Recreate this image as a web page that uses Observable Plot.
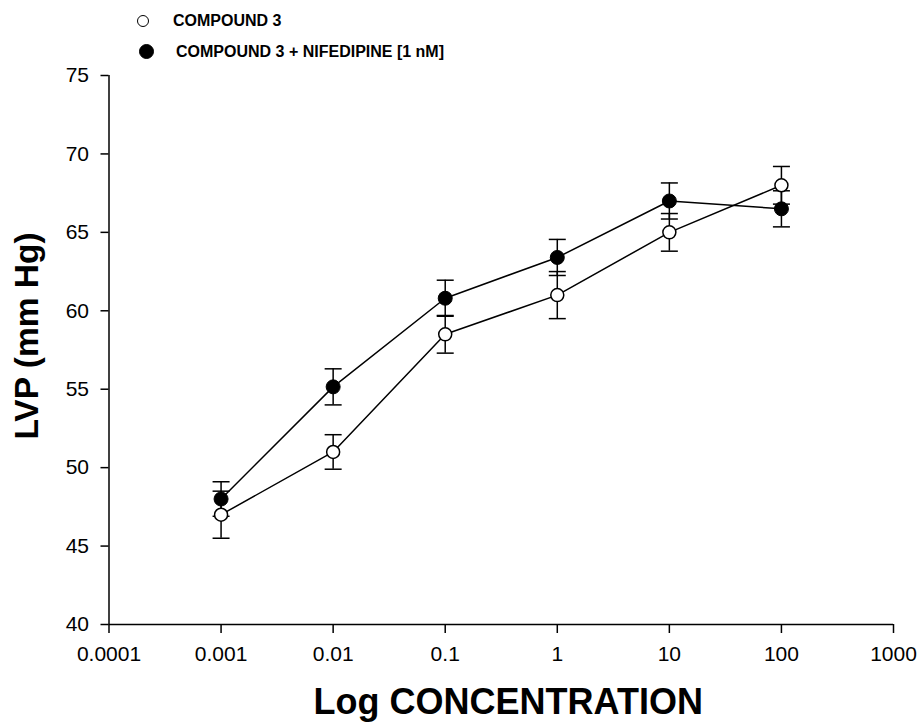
<!DOCTYPE html>
<html>
<head>
<meta charset="utf-8">
<script src="https://cdn.jsdelivr.net/npm/d3@7"></script>
<script src="https://cdn.jsdelivr.net/npm/@observablehq/plot@0.6"></script>
<style>
  body { margin: 0; background: #fff; font-family: "Liberation Sans", Arial, sans-serif; }
  #legend { position: relative; width: 917px; height: 62px; }
  #legend .sym { position: absolute; border-radius: 50%; box-sizing: border-box; }
  #legend .lab { position: absolute; font-weight: bold; font-size: 16px; line-height: 1; white-space: nowrap; color: #000; }
</style>
</head>
<body>
<div id="legend"></div>
<div id="chart"></div>
<script>
// ---- data ----
const concentrations = [0.001, 0.01, 0.1, 1, 10, 100];
const compound3 = [47, 51, 58.5, 61, 65, 68];
const compound3Err = [1.5, 1.1, 1.2, 1.5, 1.2, 1.2];
const nifedipine = [48, 55.15, 60.8, 63.4, 67, 66.5];
const nifedipineErr = [1.1, 1.15, 1.15, 1.15, 1.15, 1.15];
const seriesNames = ["COMPOUND 3", "COMPOUND 3 + NIFEDIPINE [1 nM]"];
const xTicks = [0.0001, 0.001, 0.01, 0.1, 1, 10, 100, 1000];
const yTicks = [40, 45, 50, 55, 60, 65, 70, 75];
const xTitle = "Log CONCENTRATION";
const yTitle = "LVP (mm Hg)";

// ---- legend (HTML) ----
const legend = document.getElementById("legend");
const legendItems = [
  {name: seriesNames[0], cx: 143.3, cy: 20.7, r: 6, fill: "#fff", textLeft: 173, textTop: 13.4},
  {name: seriesNames[1], cx: 146.7, cy: 51.7, r: 7.5, fill: "#000", textLeft: 176, textTop: 44.2}
];
for (const it of legendItems) {
  const s = document.createElement("div");
  s.className = "sym";
  s.style.left = (it.cx - it.r) + "px";
  s.style.top = (it.cy - it.r) + "px";
  s.style.width = (2 * it.r) + "px";
  s.style.height = (2 * it.r) + "px";
  s.style.background = it.fill;
  s.style.border = "1.5px solid #000";
  legend.appendChild(s);
  const t = document.createElement("div");
  t.className = "lab";
  t.style.left = it.textLeft + "px";
  t.style.top = it.textTop + "px";
  t.textContent = it.name;
  legend.appendChild(t);
}

// ---- rows ----
const rows = [];
concentrations.forEach((c, i) => {
  rows.push({series: seriesNames[0], conc: c, value: compound3[i], err: compound3Err[i]});
});
concentrations.forEach((c, i) => {
  rows.push({series: seriesNames[1], conc: c, value: nifedipine[i], err: nifedipineErr[i]});
});
const openRows = rows.filter(d => d.series === seriesNames[0]);
const filledRows = rows.filter(d => d.series === seriesNames[1]);

const capSymbol = {
  draw(context) {
    context.moveTo(-8.5, 0);
    context.lineTo(8.5, 0);
  }
};

const font = "'Liberation Sans', Arial, sans-serif";

const chart = Plot.plot({
  width: 917,
  height: 663,
  marginTop: 13,
  marginBottom: 101,
  marginLeft: 108.5,
  marginRight: 24,
  style: {fontFamily: font, background: "#fff", color: "#000", overflow: "visible"},
  x: {type: "log", domain: [0.0001, 1000]},
  y: {domain: [40, 75]},
  marks: [
    Plot.axisX({ticks: xTicks, tickFormat: d => String(d), tickSize: 9, tickPadding: 13, fontSize: 21, label: null, strokeWidth: 1.5}),
    Plot.axisY({ticks: yTicks, tickSize: 8, tickPadding: 12, fontSize: 21, label: null, strokeWidth: 1.5}),
    Plot.ruleY([40], {stroke: "#000", strokeWidth: 1.5}),
    Plot.ruleX([0.0001], {stroke: "#000", strokeWidth: 1.5}),
    Plot.text([xTitle], {frameAnchor: "bottom", lineAnchor: "middle", textAnchor: "middle", dy: 78, dx: 7, fontSize: 36, fontWeight: "bold", fill: "#000"}),
    Plot.text([yTitle], {frameAnchor: "left", textAnchor: "middle", lineAnchor: "middle", rotate: -90, dx: -82, dy: -14, fontSize: 33.5, fontWeight: "bold", fill: "#000"}),
    // lines
    Plot.line(rows, {x: "conc", y: "value", z: "series", stroke: "#000", strokeWidth: 1.5}),
    // error bars
    Plot.ruleX(rows, {x: "conc", y1: d => d.value - d.err, y2: d => d.value + d.err, stroke: "#000", strokeWidth: 1.5}),
    Plot.dot(rows, {x: "conc", y: d => d.value + d.err, symbol: capSymbol, fill: "none", stroke: "#000", strokeWidth: 1.5}),
    Plot.dot(rows, {x: "conc", y: d => d.value - d.err, symbol: capSymbol, fill: "none", stroke: "#000", strokeWidth: 1.5}),
    // points
    Plot.dot(openRows, {x: "conc", y: "value", r: 6.5, fill: "#fff", stroke: "#000", strokeWidth: 1.5}),
    Plot.dot(filledRows, {x: "conc", y: "value", r: 7, fill: "#000", stroke: "#000", strokeWidth: 1})
  ]
});
document.getElementById("chart").appendChild(chart);
</script>
</body>
</html>
